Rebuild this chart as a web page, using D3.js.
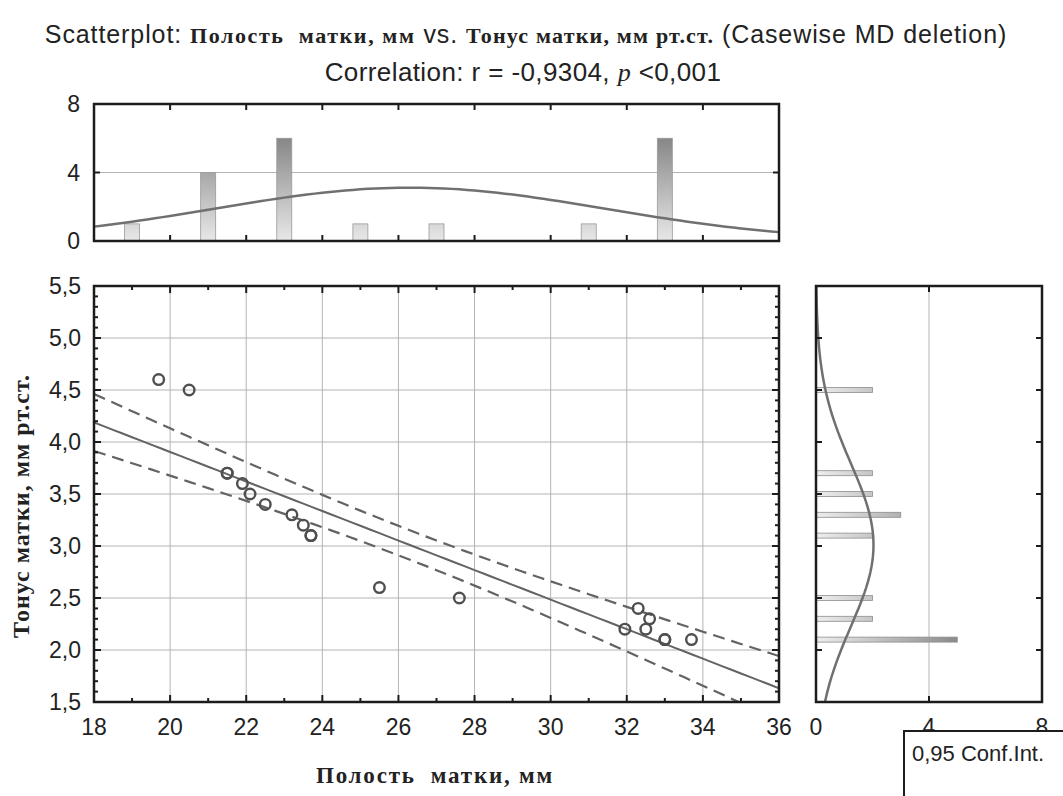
<!DOCTYPE html>
<html>
<head>
<meta charset="utf-8">
<script src="https://cdn.jsdelivr.net/npm/d3@7"></script>
<style>
  body { margin: 0; background: #fff; }
  svg text { fill: #222; white-space: pre; }
  .sans { font-family: "Liberation Sans", Arial, sans-serif; }
  .serif { font-family: "Liberation Serif", "Times New Roman", serif; font-weight: bold; }
</style>
</head>
<body>
<svg id="chart"></svg>
<script>
// точки: полость матки (мм) и тонус матки (мм рт.ст.)
var xValues = [19.7, 20.5, 21.5, 21.5, 21.9, 22.1, 22.5, 23.2, 23.5, 23.7, 23.7, 25.5, 27.6, 32.3, 32.6, 31.95, 32.5, 33.0, 33.0, 33.7];
var yValues = [4.6, 4.5, 3.7, 3.7, 3.6, 3.5, 3.4, 3.3, 3.2, 3.1, 3.1, 2.6, 2.5, 2.4, 2.3, 2.2, 2.2, 2.1, 2.1, 2.1];

// гистограмма сверху (ширина интервала 2)
var xBins = [19, 21, 23, 25, 27, 29, 31, 33, 35];
var xCounts = [1, 4, 6, 1, 1, 0, 1, 6, 0];
var xBinWidth = 2;

// гистограмма справа (ширина интервала 0.2)
var yBins = [2.1, 2.3, 2.5, 2.7, 2.9, 3.1, 3.3, 3.5, 3.7, 3.9, 4.1, 4.3, 4.5];
var yCounts = [5, 2, 2, 0, 0, 2, 3, 2, 2, 0, 0, 0, 2];
var yBinWidth = 0.2;

var xTicks = [18, 20, 22, 24, 26, 28, 30, 32, 34, 36];
var yTicks = [1.5, 2.0, 2.5, 3.0, 3.5, 4.0, 4.5, 5.0, 5.5];
var countTicks = [0, 4, 8];

// t(0.975, df = 18)
var tCrit = 2.1009;

var width = 1063;
var height = 796;

var main = { left: 94, right: 779, top: 286, bottom: 702 };
var topBox = { left: 94, right: 779, top: 104, bottom: 241 };
var sideBox = { left: 816, right: 1042, top: 286, bottom: 702 };

var frameColor = '#1c1c1c';
var gridColor = '#b4b4b4';
var markColor = '#636363';

var svg = d3.select('#chart')
  .attr('width', width)
  .attr('height', height);

var fmt = function(v) {
  return d3.format('.1f')(v).replace('.', ',');
};

var x = d3.scaleLinear().domain([18, 36]).range([main.left, main.right]);
var y = d3.scaleLinear().domain([1.5, 5.5]).range([main.bottom, main.top]);
var topY = d3.scaleLinear().domain([0, 8]).range([topBox.bottom, topBox.top]);
var sideX = d3.scaleLinear().domain([0, 8]).range([sideBox.left, sideBox.right]);

// градиенты столбиков
var defs = svg.append('defs');
var gTop = defs.append('linearGradient')
  .attr('id', 'gradTop')
  .attr('gradientUnits', 'userSpaceOnUse')
  .attr('x1', 0).attr('x2', 0)
  .attr('y1', topY(0)).attr('y2', topY(6));
gTop.append('stop').attr('offset', 0).attr('stop-color', '#e8e8e8');
gTop.append('stop').attr('offset', 1).attr('stop-color', '#878787');

var gSide = defs.append('linearGradient')
  .attr('id', 'gradSide')
  .attr('gradientUnits', 'userSpaceOnUse')
  .attr('y1', 0).attr('y2', 0)
  .attr('x1', sideX(0)).attr('x2', sideX(5));
gSide.append('stop').attr('offset', 0).attr('stop-color', '#eeeeee');
gSide.append('stop').attr('offset', 1).attr('stop-color', '#8a8a8a');

defs.append('clipPath')
  .attr('id', 'clipMain')
  .append('rect')
  .attr('x', main.left).attr('y', main.top)
  .attr('width', main.right - main.left)
  .attr('height', main.bottom - main.top);

// заголовок
var t1 = svg.append('text')
  .attr('x', 526)
  .attr('y', 43)
  .attr('text-anchor', 'middle');
t1.append('tspan').attr('class', 'sans').attr('font-size', 25).attr('letter-spacing', 0.9).text('Scatterplot: ');
t1.append('tspan').attr('class', 'serif').attr('font-size', 22).attr('letter-spacing', 1.6).text('Полость  матки, мм');
t1.append('tspan').attr('class', 'sans').attr('font-size', 25).attr('letter-spacing', 0.9).text(' vs. ');
t1.append('tspan').attr('class', 'serif').attr('font-size', 22).attr('letter-spacing', 1.2).text('Тонус матки, мм рт.ст.');
t1.append('tspan').attr('class', 'sans').attr('font-size', 25).attr('letter-spacing', 0.9).text(' (Casewise MD deletion)');

var t2 = svg.append('text')
  .attr('x', 523)
  .attr('y', 81)
  .attr('text-anchor', 'middle')
  .attr('class', 'sans')
  .attr('font-size', 26)
  .attr('letter-spacing', 0.4);
t2.append('tspan').text('Correlation: r = -0,9304, ');
t2.append('tspan').attr('font-family', '"Liberation Serif", serif').attr('font-style', 'italic').text('p');
t2.append('tspan').text(' <0,001');

// статистика
var n = xValues.length;
var mx = d3.mean(xValues);
var my = d3.mean(yValues);
var sxx = d3.sum(xValues, function(v) { return (v - mx) * (v - mx); });
var syy = d3.sum(yValues, function(v) { return (v - my) * (v - my); });
var sxy = d3.sum(xValues, function(v, i) { return (v - mx) * (yValues[i] - my); });
var slope = sxy / sxx;
var intercept = my - slope * mx;
var se = Math.sqrt((syy - slope * sxy) / (n - 2));
var sdX = Math.sqrt(sxx / (n - 1));
var sdY = Math.sqrt(syy / (n - 1));

function normal(v, m, s) {
  return Math.exp(-0.5 * Math.pow((v - m) / s, 2)) / (s * Math.sqrt(2 * Math.PI));
}

// засечки
function ticksX(g, values, yPos, dir, len) {
  g.selectAll(null)
    .data(values)
    .enter()
    .append('line')
    .attr('x1', function(d) { return x(d); })
    .attr('x2', function(d) { return x(d); })
    .attr('y1', yPos)
    .attr('y2', yPos + dir * len)
    .attr('stroke', frameColor)
    .attr('stroke-width', 2);
}

function ticksY(g, values, scale, xPos, dir, len) {
  g.selectAll(null)
    .data(values)
    .enter()
    .append('line')
    .attr('y1', function(d) { return scale(d); })
    .attr('y2', function(d) { return scale(d); })
    .attr('x1', xPos)
    .attr('x2', xPos + dir * len)
    .attr('stroke', frameColor)
    .attr('stroke-width', 2);
}

// ---------- основной график ----------
var gMain = svg.append('g');

// сетка
gMain.selectAll('.vgrid')
  .data(xTicks.slice(1, -1))
  .enter()
  .append('line')
  .attr('x1', function(d) { return x(d); })
  .attr('x2', function(d) { return x(d); })
  .attr('y1', main.top)
  .attr('y2', main.bottom)
  .attr('stroke', gridColor)
  .attr('stroke-width', 1);

gMain.selectAll('.hgrid')
  .data(yTicks.slice(1, -1))
  .enter()
  .append('line')
  .attr('x1', main.left)
  .attr('x2', main.right)
  .attr('y1', function(d) { return y(d); })
  .attr('y2', function(d) { return y(d); })
  .attr('stroke', gridColor)
  .attr('stroke-width', 1);

// линия регрессии и доверительный интервал
var lineXs = d3.range(18, 36.01, 0.25);
var plot = gMain.append('g').attr('clip-path', 'url(#clipMain)');

function band(sign) {
  return d3.line()
    .x(function(d) { return x(d); })
    .y(function(d) {
      var h = tCrit * se * Math.sqrt(1 / n + (d - mx) * (d - mx) / sxx);
      return y(intercept + slope * d + sign * h);
    });
}

plot.append('path')
  .datum(lineXs)
  .attr('d', band(0))
  .attr('fill', 'none')
  .attr('stroke', markColor)
  .attr('stroke-width', 2);

[1, -1].forEach(function(s) {
  plot.append('path')
    .datum(lineXs)
    .attr('d', band(s))
    .attr('fill', 'none')
    .attr('stroke', markColor)
    .attr('stroke-width', 2.2)
    .attr('stroke-dasharray', '12,7');
});

// точки
gMain.selectAll('circle')
  .data(xValues)
  .enter()
  .append('circle')
  .attr('cx', function(d) { return x(d); })
  .attr('cy', function(d, i) { return y(yValues[i]); })
  .attr('r', 5.3)
  .attr('fill', 'none')
  .attr('stroke', '#4f4f4f')
  .attr('stroke-width', 2.4);

var minorX = d3.range(19, 36, 2);
var minorY = d3.range(1.6, 5.5, 0.1).filter(function(v) {
  return Math.abs(v * 2 - Math.round(v * 2)) > 0.01;
});

ticksX(gMain, xTicks, main.top, 1, 7);
ticksX(gMain, minorX, main.top, 1, 4);
ticksX(gMain, xTicks, main.bottom, -1, 7);
ticksX(gMain, minorX, main.bottom, -1, 4);
ticksY(gMain, yTicks, y, main.left, 1, 7);
ticksY(gMain, minorY, y, main.left, 1, 4);
ticksY(gMain, yTicks, y, main.right, -1, 7);
ticksY(gMain, minorY, y, main.right, -1, 4);

gMain.append('rect')
  .attr('x', main.left).attr('y', main.top)
  .attr('width', main.right - main.left)
  .attr('height', main.bottom - main.top)
  .attr('fill', 'none')
  .attr('stroke', frameColor)
  .attr('stroke-width', 2.5);

// подписи осей
gMain.selectAll('.xlab')
  .data(xTicks)
  .enter()
  .append('text')
  .attr('class', 'sans')
  .attr('font-size', 23)
  .attr('text-anchor', 'middle')
  .attr('x', function(d) { return x(d); })
  .attr('y', 735)
  .text(function(d) { return d; });

gMain.selectAll('.ylab')
  .data(yTicks)
  .enter()
  .append('text')
  .attr('class', 'sans')
  .attr('font-size', 23)
  .attr('text-anchor', 'end')
  .attr('x', 81)
  .attr('y', function(d) { return y(d) + 8; })
  .text(function(d) { return fmt(d); });

svg.append('text')
  .attr('class', 'serif')
  .attr('font-size', 23)
  .attr('letter-spacing', 1.8)
  .attr('text-anchor', 'middle')
  .attr('x', 435)
  .attr('y', 783)
  .text('Полость  матки, мм');

svg.append('text')
  .attr('class', 'serif')
  .attr('font-size', 24)
  .attr('letter-spacing', 1)
  .attr('text-anchor', 'middle')
  .attr('transform', 'translate(29,506) rotate(-90)')
  .text('Тонус матки, мм рт.ст.');

// ---------- гистограмма сверху ----------
var gTopH = svg.append('g');

gTopH.append('line')
  .attr('x1', topBox.left).attr('x2', topBox.right)
  .attr('y1', topY(4)).attr('y2', topY(4))
  .attr('stroke', gridColor);

gTopH.selectAll('rect.xbar')
  .data(xBins.map(function(b, i) { return { bin: b, count: xCounts[i] }; }).filter(function(d) { return d.count > 0; }))
  .enter()
  .append('rect')
  .attr('class', 'xbar')
  .attr('x', function(d) { return x(d.bin) - 7.5; })
  .attr('y', function(d) { return topY(d.count); })
  .attr('width', 15)
  .attr('height', function(d) { return topY(0) - topY(d.count); })
  .attr('fill', 'url(#gradTop)')
  .attr('stroke', '#9a9a9a')
  .attr('stroke-width', 0.8);

var topCurve = d3.line()
  .x(function(d) { return x(d); })
  .y(function(d) { return topY(n * xBinWidth * normal(d, mx, sdX)); });

gTopH.append('path')
  .datum(d3.range(18, 36.01, 0.2))
  .attr('d', topCurve)
  .attr('fill', 'none')
  .attr('stroke', '#707070')
  .attr('stroke-width', 2.5);

var topMarks = d3.range(20, 35, 2);
ticksX(gTopH, topMarks, topBox.top, 1, 6);
ticksX(gTopH, topMarks, topBox.bottom, -1, 6);
ticksY(gTopH, countTicks, topY, topBox.left, 1, 6);
ticksY(gTopH, countTicks, topY, topBox.right, -1, 6);

gTopH.append('rect')
  .attr('x', topBox.left).attr('y', topBox.top)
  .attr('width', topBox.right - topBox.left)
  .attr('height', topBox.bottom - topBox.top)
  .attr('fill', 'none')
  .attr('stroke', frameColor)
  .attr('stroke-width', 2.5);

gTopH.selectAll('.tlab')
  .data(countTicks)
  .enter()
  .append('text')
  .attr('class', 'sans')
  .attr('font-size', 23)
  .attr('text-anchor', 'end')
  .attr('x', 80)
  .attr('y', function(d) { return topY(d) + 8; })
  .text(function(d) { return d; });

// ---------- гистограмма справа ----------
var gSideH = svg.append('g');

gSideH.append('line')
  .attr('x1', sideX(4)).attr('x2', sideX(4))
  .attr('y1', sideBox.top).attr('y2', sideBox.bottom)
  .attr('stroke', gridColor);

gSideH.selectAll('rect.ybar')
  .data(yBins.map(function(b, i) { return { bin: b, count: yCounts[i] }; }).filter(function(d) { return d.count > 0; }))
  .enter()
  .append('rect')
  .attr('class', 'ybar')
  .attr('x', sideX(0))
  .attr('y', function(d) { return y(d.bin) - 2.5; })
  .attr('width', function(d) { return sideX(d.count) - sideX(0); })
  .attr('height', 5)
  .attr('fill', 'url(#gradSide)')
  .attr('stroke', '#8e8e8e')
  .attr('stroke-width', 0.8);

var sideCurve = d3.line()
  .y(function(d) { return y(d); })
  .x(function(d) { return sideX(n * yBinWidth * normal(d, my, sdY)); });

gSideH.append('path')
  .datum(d3.range(1.5, 5.501, 0.05))
  .attr('d', sideCurve)
  .attr('fill', 'none')
  .attr('stroke', '#707070')
  .attr('stroke-width', 2.5);

ticksY(gSideH, yTicks, y, sideBox.left, 1, 6);
ticksY(gSideH, yTicks, y, sideBox.right, -1, 6);

[sideBox.top, sideBox.bottom].forEach(function(yy, k) {
  gSideH.append('line')
    .attr('x1', sideX(4)).attr('x2', sideX(4))
    .attr('y1', yy).attr('y2', yy + (k === 0 ? 6 : -6))
    .attr('stroke', frameColor)
    .attr('stroke-width', 2);
});

gSideH.append('rect')
  .attr('x', sideBox.left).attr('y', sideBox.top)
  .attr('width', sideBox.right - sideBox.left)
  .attr('height', sideBox.bottom - sideBox.top)
  .attr('fill', 'none')
  .attr('stroke', frameColor)
  .attr('stroke-width', 2.5);

gSideH.selectAll('.slab')
  .data(countTicks)
  .enter()
  .append('text')
  .attr('class', 'sans')
  .attr('font-size', 23)
  .attr('text-anchor', 'middle')
  .attr('x', function(d) { return sideX(d); })
  .attr('y', 735)
  .text(function(d) { return d; });

// легенда (обрезана краем)
svg.append('rect')
  .attr('x', 904).attr('y', 731)
  .attr('width', 200).attr('height', 120)
  .attr('fill', '#fff')
  .attr('stroke', frameColor)
  .attr('stroke-width', 2);

svg.append('text')
  .attr('class', 'sans')
  .attr('font-size', 22)
  .attr('x', 912)
  .attr('y', 761)
  .text('0,95 Conf.Int.');
</script>
</body>
</html>
